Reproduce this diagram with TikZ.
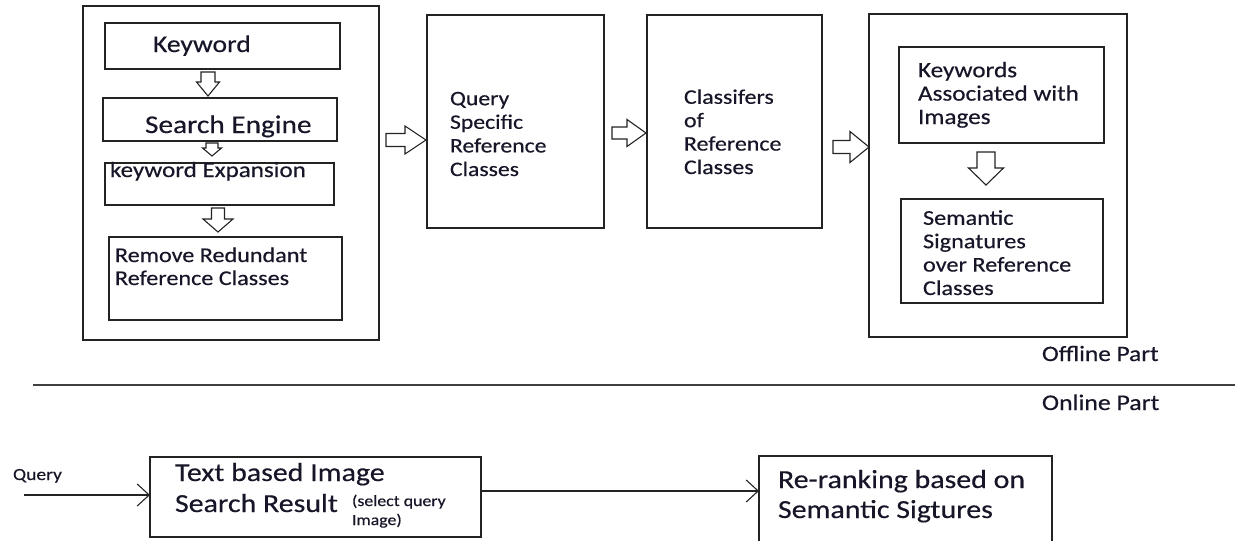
\documentclass[tikz,border=0pt]{standalone}
\usepackage{fontspec}
\setmainfont[FakeStretch=1.15,FakeBold=0.4]{Carlito}
\usetikzlibrary{arrows.meta,fit}
\definecolor{ink}{RGB}{22,22,40}
\definecolor{edge}{RGB}{35,35,35}
\newcommand\bdown[6]{%
  \draw[blk] (#1-#5,#2) -- (#1+#5,#2) -- (#1+#5,#3) -- (#1+#6,#3) -- (#1,#4) -- (#1-#6,#3) -- (#1-#5,#3) -- cycle;}
\newcommand\bright[6]{%
  \draw[blk] (#2,#1-#5) -- (#3,#1-#5) -- (#3,#1-#6) -- (#4,#1) -- (#3,#1+#6) -- (#3,#1+#5) -- (#2,#1+#5) -- cycle;}
\begin{document}
\begin{tikzpicture}[x=1pt,y=-1pt,
  box/.style={draw=edge, line width=1.6pt, inner sep=0pt, outer sep=0pt},
  txt/.style={inner sep=0pt, outer sep=0pt, anchor=base west, align=left, text=ink},
  blk/.style={draw=edge, line width=1.1pt, fill=white, line join=miter},
  con/.style={draw=edge, line width=1.3pt, -{Straight Barb[length=12pt,width=22pt,line width=1.1pt]}},
  sep/.style={draw=black!75, line width=1.8pt}]
\useasboundingbox (0,0) rectangle (1235,541);

% ---------- offline part: left group ----------
\node[box, fit={(83,6) (379,340)}] (outerL) {};
\node[box, fit={(105,23) (340,69)}] (kw) {};
\node[box, fit={(103,98) (337,141)}] (se) {};
\node[box, fit={(105,163) (334,205)}] (ke) {};
\node[box, fit={(109,237) (342,320)}] (rr) {};

% (base anchor of a multi-line node = baseline of its last line)
\node[txt, font=\fontsize{24}{28}\selectfont] (kwt) at (153,52) {Keyword};
\node[txt, font=\fontsize{25.5}{30}\selectfont] (set) at (145,133) {Search Engine};
\node[txt, font=\fontsize{21.8}{26}\selectfont] (ket) at (110,177) {keyword Expansion};
\node[txt, font=\fontsize{21}{23}\selectfont] (rrt) at (115,285) {Remove Redundant\\Reference Classes};

\bdown{208}{72}{82}{96}{7}{11.5}
\bdown{212}{143}{148}{156}{6}{9.5}
\bdown{218}{208}{219}{232}{6.5}{15}

% ---------- middle boxes ----------
\node[box, fit={(427,15) (604,228)}] (qs) {};
\node[box, fit={(647,15) (822,228)}] (cl) {};
\node[txt, font=\fontsize{20.6}{23.6}\selectfont] (qst) at (450,176) {Query\\Specific\\Reference\\Classes};
\node[txt, font=\fontsize{20.8}{23.4}\selectfont] (clt) at (684,174) {Classifers\\of\\Reference\\Classes};

\bright{140}{386}{405}{426}{6.5}{14}
\bright{133}{612}{627}{646}{6}{13.5}
\bright{147}{833}{850}{869}{6.5}{15.5}

% ---------- right group ----------
\node[box, fit={(869,14) (1127,337)}] (outerR) {};
\node[box, fit={(899,47) (1104,143)}] (ka) {};
\node[box, fit={(901,199) (1103,303)}] (ss) {};
\node[txt, font=\fontsize{21.9}{23.4}\selectfont] (kat) at (918,124) {Keywords\\Associated with\\Images};
\node[txt, font=\fontsize{21.1}{23.4}\selectfont] (sst) at (923,295) {Semantic\\Signatures\\over Reference\\Classes};
\bdown{986}{152}{168}{185}{9}{17.5}

\node[txt, font=\fontsize{22}{26}\selectfont] (off) at (1042,361) {Offline Part};

% ---------- separator ----------
\coordinate (s0) at (33,385);
\coordinate (s1) at (1235,385);
\draw[sep] (s0) -- (s1);
\node[txt, font=\fontsize{22.4}{26}\selectfont] (on) at (1042,410) {Online Part};

% ---------- online part ----------
\node[box, fit={(150,457) (481,537)}] (tb) {};
\node[box, fit={(759,456) (1052,550)}] (rk) {};
\node[txt, font=\fontsize{17}{20}\selectfont] (ql) at (13,480) {Query};
\node[txt, font=\fontsize{26}{30}\selectfont] (tbt1) at (175,481) {Text based Image};
\node[txt, font=\fontsize{26}{30}\selectfont] (tbt2) at (175,512) {Search Result};
\node[txt, font=\fontsize{15.5}{19}\selectfont] (sel) at (352,525) {(select query\\Image)};
\node[txt, font=\fontsize{26}{30}\selectfont] (rkt) at (778,518) {Re-ranking based on\\Semantic Sigtures};

\coordinate (q0) at (24,495);
\draw[con] (q0) -- (q0 -| tb.west);
\coordinate (t0) at (481,491);
\draw[con] (t0) -- (t0 -| rk.west);
\end{tikzpicture}
\end{document}
